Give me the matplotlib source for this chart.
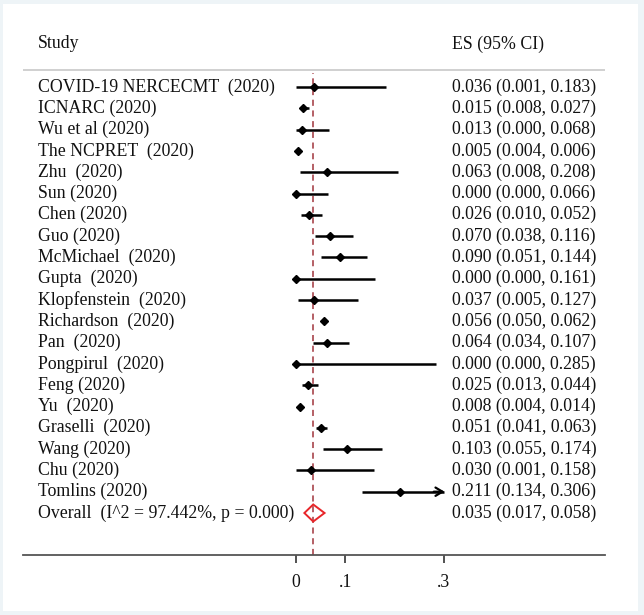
import matplotlib
matplotlib.use("Agg")
import matplotlib.pyplot as plt
from matplotlib.patches import Polygon, Rectangle

studies = ["COVID-19 NERCECMT  (2020)", "ICNARC (2020)", "Wu et al (2020)", "The NCPRET  (2020)",
           "Zhu  (2020)", "Sun (2020)", "Chen (2020)", "Guo (2020)", "McMichael  (2020)", "Gupta  (2020)",
           "Klopfenstein  (2020)", "Richardson  (2020)", "Pan  (2020)", "Pongpirul  (2020)", "Feng (2020)",
           "Yu  (2020)", "Graselli  (2020)", "Wang (2020)", "Chu (2020)", "Tomlins (2020)"]
es = [0.036, 0.015, 0.013, 0.005, 0.063, 0.000, 0.026, 0.070, 0.090, 0.000,
      0.037, 0.056, 0.064, 0.000, 0.025, 0.008, 0.051, 0.103, 0.030, 0.211]
lo = [0.001, 0.008, 0.000, 0.004, 0.008, 0.000, 0.010, 0.038, 0.051, 0.000,
      0.005, 0.050, 0.034, 0.000, 0.013, 0.004, 0.041, 0.055, 0.001, 0.134]
hi = [0.183, 0.027, 0.068, 0.006, 0.208, 0.066, 0.052, 0.116, 0.144, 0.161,
      0.127, 0.062, 0.107, 0.285, 0.044, 0.014, 0.063, 0.174, 0.158, 0.306]
overall_label = "Overall  (I^2 = 97.442%, p = 0.000)"
overall = (0.035, 0.017, 0.058)
xticks = [0, 0.1, 0.3]
xticklabels = ["0", ".1", ".3"]
xclip = 0.3

W, H = 644, 615
fig = plt.figure(figsize=(W/100, H/100), dpi=100)
fig.patch.set_facecolor("#eef4f7")
fig.add_artist(Rectangle((3/W, 4/H), (638-3)/W, (611-4)/H, transform=fig.transFigure,
                         facecolor="white", edgecolor="none", zorder=0))

x0, x1 = 23, 605
y_top, y_bot = 30, 555
ax = fig.add_axes([x0/W, 1 - y_bot/H, (x1-x0)/W, (y_bot-y_top)/H])
ax.set_facecolor("none")
scale = 492.0
ax.set_xlim((x0-296)/scale, (x1-296)/scale)
row0, step = 87, 21.3
ax.set_ylim((y_bot-row0)/step, (y_top-row0)/step)

serif = ["Liberation Serif", "DejaVu Serif"]
fs = 12.8
tc = "#111111"
xs = (38-296)/scale
xe = (452-296)/scale

ax.text(xs, (44-row0)/step, "Study", family=serif, fontsize=fs, color=tc, va="center")
ax.text(xe, (44-row0)/step, "ES (95% CI)", family=serif, fontsize=fs, color=tc, va="center")
ax.axhline((70-row0)/step, color="#c8c8c8", lw=1.2, xmin=0, xmax=1)

for i, (s, e, l, h) in enumerate(zip(studies, es, lo, hi)):
    ax.text(xs, i, s, family=serif, fontsize=fs, color=tc, va="center")
    ax.text(xe, i, f"{e:.3f} ({l:.3f}, {h:.3f})", family=serif, fontsize=fs, color=tc, va="center")
    if h > xclip:
        ax.plot([l, xclip], [i, i], color="black", lw=1.8, solid_capstyle="butt")
        ax.annotate("", xy=(xclip+0.002, i), xytext=(xclip-0.02, i),
                    arrowprops=dict(arrowstyle="->,head_length=0.5,head_width=0.3", color="black",
                                    lw=1.6, shrinkA=0, shrinkB=0))
    else:
        ax.plot([l, h], [i, i], color="black", lw=1.8, solid_capstyle="butt")
    ax.plot(e, i, marker="D", color="black", markersize=4.5, zorder=4)

n = len(studies)
ax.text(xs, n, overall_label, family=serif, fontsize=fs, color=tc, va="center")
ax.text(xe, n, f"{overall[0]:.3f} ({overall[1]:.3f}, {overall[2]:.3f})", family=serif,
        fontsize=fs, color=tc, va="center")
dh = 0.4
ax.add_patch(Polygon([(overall[1], n), (overall[0], n-dh), (overall[2], n), (overall[0], n+dh)],
                     closed=True, facecolor="none", edgecolor="#e8262a", lw=1.4, zorder=5))

ax.plot([overall[0], overall[0]], [(y_bot-row0)/step, (73-row0)/step], color="#a0343c",
        lw=1.1, ls=(0, (4, 3)), zorder=1)

for sp in ["top", "left", "right"]:
    ax.spines[sp].set_visible(False)
ax.spines["bottom"].set_color("#555555")
ax.spines["bottom"].set_linewidth(1.3)
ax.set_yticks([])
ax.set_xticks(xticks)
ax.set_xticklabels(xticklabels, family=serif, fontsize=fs, color=tc)
ax.tick_params(axis="x", direction="out", length=6, width=1.2, color="#333333", pad=8)

fig.savefig("out.png", dpi=100, facecolor=fig.get_facecolor())
